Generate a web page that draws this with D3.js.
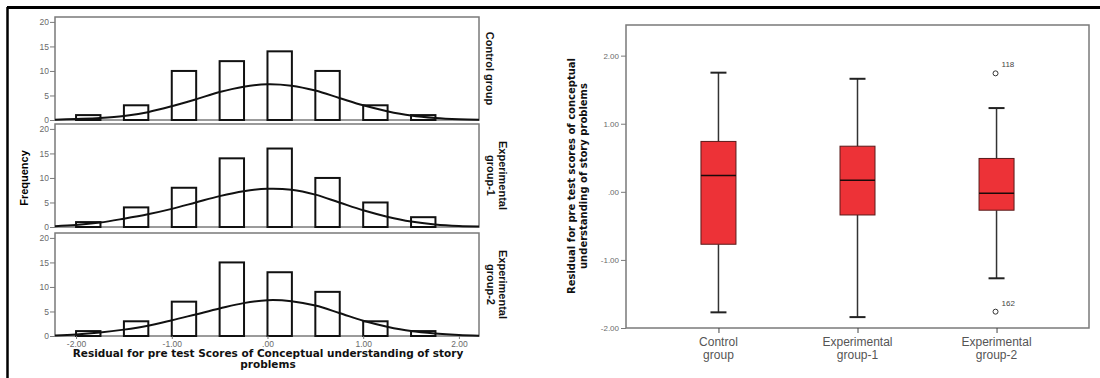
<!DOCTYPE html>
<html>
<head>
<meta charset="utf-8">
<script src="https://cdn.jsdelivr.net/npm/d3@7"></script>
<style>
  body { margin: 0; background: #fff; }
  svg { display: block; font-family: "Liberation Sans", Arial, sans-serif; }
</style>
</head>
<body>
<div id="chart"></div>
<script>
// Chart size
const width = 1100;
const height = 378;

// Histogram data (bin start, bars are 0.25 wide)
const binStarts = [-2, -1.5, -1, -0.5, 0, 0.5, 1, 1.5];
const freqControl = [1, 3, 10, 12, 14, 10, 3, 1];
const freqExp1 = [1, 4, 8, 14, 16, 10, 5, 2];
const freqExp2 = [1, 3, 7, 15, 13, 9, 3, 1];

// Normal curve heights
const curveX = [-2.25, -2, -1.75, -1.5, -1.25, -1, -0.75, -0.5, -0.25, 0, 0.25, 0.5, 0.75, 1, 1.25, 1.5, 1.75, 2, 2.25];
const curveControl = [0.05, 0.2, 0.4, 0.8, 1.6, 2.8, 4.2, 5.7, 6.8, 7.3, 7.0, 6.0, 4.5, 3.0, 1.8, 0.9, 0.4, 0.15, 0.05];
const curveExp1 = [0.15, 0.4, 0.9, 1.7, 2.6, 3.7, 5.0, 6.3, 7.3, 7.8, 7.6, 6.6, 5.0, 3.4, 2.1, 1.1, 0.5, 0.2, 0.1];
const curveExp2 = [0.1, 0.3, 0.7, 1.3, 2.1, 3.2, 4.4, 5.6, 6.7, 7.3, 7.1, 6.2, 4.7, 3.1, 1.9, 1.0, 0.5, 0.2, 0.05];

const panelLabels = [["Control group"], ["Experimental", "group-1"], ["Experimental", "group-2"]];
const histTicksY = [0, 5, 10, 15, 20];
const histTicksX = [-2, -1, 0, 1, 2];

// Box plot data
const boxGroups = ["Control group", "Experimental group-1", "Experimental group-2"];
const boxLabels = [["Control", "group"], ["Experimental", "group-1"], ["Experimental", "group-2"]];
const whiskerLow = [-1.77, -1.84, -1.27];
const q1 = [-0.77, -0.34, -0.27];
const median = [0.24, 0.17, -0.02];
const q3 = [0.74, 0.67, 0.49];
const whiskerHigh = [1.75, 1.66, 1.23];
const outlierGroup = [2, 2];
const outlierValue = [1.74, -1.76];
const outlierId = ["118", "162"];
const boxTicksY = [-2, -1, 0, 1, 2];

const COLORS = {
    frame: "#7a7a7a",
    tickText: "#6a6a6a",
    boxFill: "#ED3237",
    ink: "#111"
};
const TITLE_FONT = "DejaVu Sans, Verdana, sans-serif";

const fmt = d => d === 0 ? ".00" : d.toFixed(2);

const svg = d3.select("#chart")
    .append("svg")
    .attr("width", width)
    .attr("height", height);

// Outer page lines
svg.append("line").attr("x1", 7).attr("x2", width).attr("y1", 7.5).attr("y2", 7.5)
    .attr("stroke", "#000").attr("stroke-width", 3);
svg.append("line").attr("x1", 7.5).attr("x2", 7.5).attr("y1", 7).attr("y2", height)
    .attr("stroke", "#000").attr("stroke-width", 2.5);

// ---------- Histograms ----------
const x = d3.scaleLinear().domain([-2.22, 2.21]).range([55, 479]);
const panelTops = [17, 124, 233];
const panelH = 103;
const hist = [
    { freq: freqControl, curve: curveControl },
    { freq: freqExp1, curve: curveExp1 },
    { freq: freqExp2, curve: curveExp2 }
];

svg.append("clipPath").attr("id", "histClip")
    .append("rect").attr("x", 55).attr("y", 0).attr("width", 424).attr("height", height);

hist.forEach((h, i) => {
    const top = panelTops[i];
    const y = d3.scaleLinear().domain([0, 21]).range([top + panelH, top]);
    const g = svg.append("g");

    g.append("rect")
        .attr("x", 55).attr("y", top)
        .attr("width", 424).attr("height", panelH)
        .attr("fill", "#fff")
        .attr("stroke", COLORS.frame).attr("stroke-width", 1.5);

    // bars
    g.selectAll("rect.bar")
        .data(h.freq)
        .enter()
        .append("rect")
        .attr("class", "bar")
        .attr("x", (d, j) => x(binStarts[j]))
        .attr("y", d => y(d))
        .attr("width", (d, j) => x(binStarts[j] + 0.255) - x(binStarts[j]))
        .attr("height", d => y(0) - y(d))
        .attr("fill", "#fff")
        .attr("stroke", COLORS.ink)
        .attr("stroke-width", 2);

    // normal curve
    g.append("path")
        .datum(h.curve)
        .attr("clip-path", "url(#histClip)")
        .attr("d", d3.line()
            .x((d, j) => x(curveX[j]))
            .y(d => y(d))
            .curve(d3.curveCatmullRom))
        .attr("fill", "none")
        .attr("stroke", COLORS.ink)
        .attr("stroke-width", 2);

    // y axis
    const ay = g.append("g")
        .attr("transform", "translate(55,0)")
        .call(d3.axisLeft(y).tickValues(histTicksY).tickSize(5).tickFormat(d3.format("d")));
    ay.select(".domain").remove();
    ay.selectAll(".tick line").attr("stroke", COLORS.frame);
    ay.selectAll(".tick text").attr("fill", COLORS.tickText)
        .attr("font-size", 8.5).attr("font-family", "Liberation Sans, Arial").attr("x", -6);

    // strip label
    const lab = g.append("text")
        .attr("transform", `translate(${panelLabels[i].length > 1 ? 503 : 490},${top + panelH / 2}) rotate(90)`)
        .attr("text-anchor", "middle")
        .attr("font-size", 11)
        .attr("font-weight", "bold")
        .attr("fill", COLORS.ink);
    panelLabels[i].forEach((t, k) => {
        lab.append("tspan").attr("x", 0).attr("dy", k === 0 ? "0.35em" : "1.15em").text(t);
    });

    if (i === 2) {
        const ax = g.append("g")
            .attr("transform", `translate(0,${top + panelH})`)
            .call(d3.axisBottom(x).tickValues(histTicksX).tickSize(3).tickFormat(fmt));
        ax.select(".domain").remove();
        ax.selectAll(".tick line").attr("stroke", COLORS.frame);
        ax.selectAll(".tick text").attr("fill", COLORS.tickText)
            .attr("font-size", 8.5).attr("font-family", "Liberation Sans, Arial").attr("dy", "0.55em");
    }
});

svg.append("text")
    .attr("transform", "translate(28,178) rotate(-90)")
    .attr("text-anchor", "middle")
    .attr("font-size", 11)
    .attr("font-weight", "bold")
    .text("Frequency");

const xTitle = svg.append("text")
    .attr("text-anchor", "middle")
    .attr("font-family", TITLE_FONT)
    .attr("font-size", 10.5)
    .attr("font-weight", "bold")
    .attr("fill", COLORS.ink);
xTitle.append("tspan").attr("x", 268).attr("y", 357)
    .text("Residual for pre test Scores of Conceptual understanding of story");
xTitle.append("tspan").attr("x", 268).attr("y", 368).text("problems");

// ---------- Box plot ----------
const bx = d3.scalePoint().domain(boxGroups).range([626, 1089]).padding(0.665);
const by = d3.scaleLinear().domain([-2, 2.45]).range([328, 25]);
const bg = svg.append("g");

bg.append("rect")
    .attr("x", 626).attr("y", 25)
    .attr("width", 463).attr("height", 303)
    .attr("fill", "#fff")
    .attr("stroke", COLORS.frame).attr("stroke-width", 1.5);

const byAxis = bg.append("g")
    .attr("transform", "translate(626,0)")
    .call(d3.axisLeft(by).tickValues(boxTicksY).tickSize(5).tickFormat(fmt));
byAxis.select(".domain").remove();
byAxis.selectAll(".tick line").attr("stroke", COLORS.frame);
byAxis.selectAll(".tick text").attr("fill", COLORS.tickText)
    .attr("font-size", 8).attr("font-family", "Liberation Sans, Arial").attr("x", -7);

const bxAxis = bg.append("g")
    .attr("transform", "translate(0,328)")
    .call(d3.axisBottom(bx).tickSize(5).tickFormat(""));
bxAxis.select(".domain").remove();
bxAxis.selectAll(".tick line").attr("stroke", "#444");

boxLabels.forEach((lines, i) => {
    const t = bg.append("text")
        .attr("text-anchor", "middle")
        .attr("font-size", 12)
        .attr("fill", "#555");
    lines.forEach((s, k) => {
        t.append("tspan").attr("x", bx(boxGroups[i])).attr("y", 346 + k * 12.5).text(s);
    });
});

boxGroups.forEach((grp, i) => {
    const cx = bx(grp);
    const bw = 35;
    const cap = 16;
    bg.append("line").attr("x1", cx).attr("x2", cx)
        .attr("y1", by(whiskerHigh[i])).attr("y2", by(q3[i]))
        .attr("stroke", "#333").attr("stroke-width", 1.5);
    bg.append("line").attr("x1", cx).attr("x2", cx)
        .attr("y1", by(q1[i])).attr("y2", by(whiskerLow[i]))
        .attr("stroke", "#333").attr("stroke-width", 1.5);
    bg.append("line").attr("x1", cx - cap / 2).attr("x2", cx + cap / 2)
        .attr("y1", by(whiskerHigh[i])).attr("y2", by(whiskerHigh[i]))
        .attr("stroke", "#222").attr("stroke-width", 2);
    bg.append("line").attr("x1", cx - cap / 2).attr("x2", cx + cap / 2)
        .attr("y1", by(whiskerLow[i])).attr("y2", by(whiskerLow[i]))
        .attr("stroke", "#222").attr("stroke-width", 2);
    bg.append("rect")
        .attr("x", cx - bw / 2).attr("y", by(q3[i]))
        .attr("width", bw).attr("height", by(q1[i]) - by(q3[i]))
        .attr("fill", COLORS.boxFill)
        .attr("stroke", "#5a1a1a").attr("stroke-width", 1);
    bg.append("line").attr("x1", cx - bw / 2).attr("x2", cx + bw / 2)
        .attr("y1", by(median[i])).attr("y2", by(median[i]))
        .attr("stroke", "#1a0a0a").attr("stroke-width", 1.5);
});

outlierValue.forEach((v, i) => {
    const cx = bx(boxGroups[outlierGroup[i]]);
    bg.append("circle")
        .attr("cx", cx - 1).attr("cy", by(v))
        .attr("r", 2.5)
        .attr("fill", "none")
        .attr("stroke", "#333").attr("stroke-width", 1);
    bg.append("text")
        .attr("x", cx + 5).attr("y", by(v) - 6)
        .attr("font-size", 8)
        .attr("fill", "#444")
        .text(outlierId[i]);
});

const bTitle = svg.append("text")
    .attr("transform", "translate(575,176) rotate(-90)")
    .attr("text-anchor", "middle")
    .attr("font-family", TITLE_FONT)
    .attr("font-size", 10)
    .attr("font-weight", "bold")
    .attr("fill", COLORS.ink);
bTitle.append("tspan").attr("x", 0).attr("dy", 0).text("Residual for pre test scores of conceptual");
bTitle.append("tspan").attr("x", 0).attr("dy", "1.2em").text("understanding of story problems");
</script>
</body>
</html>
